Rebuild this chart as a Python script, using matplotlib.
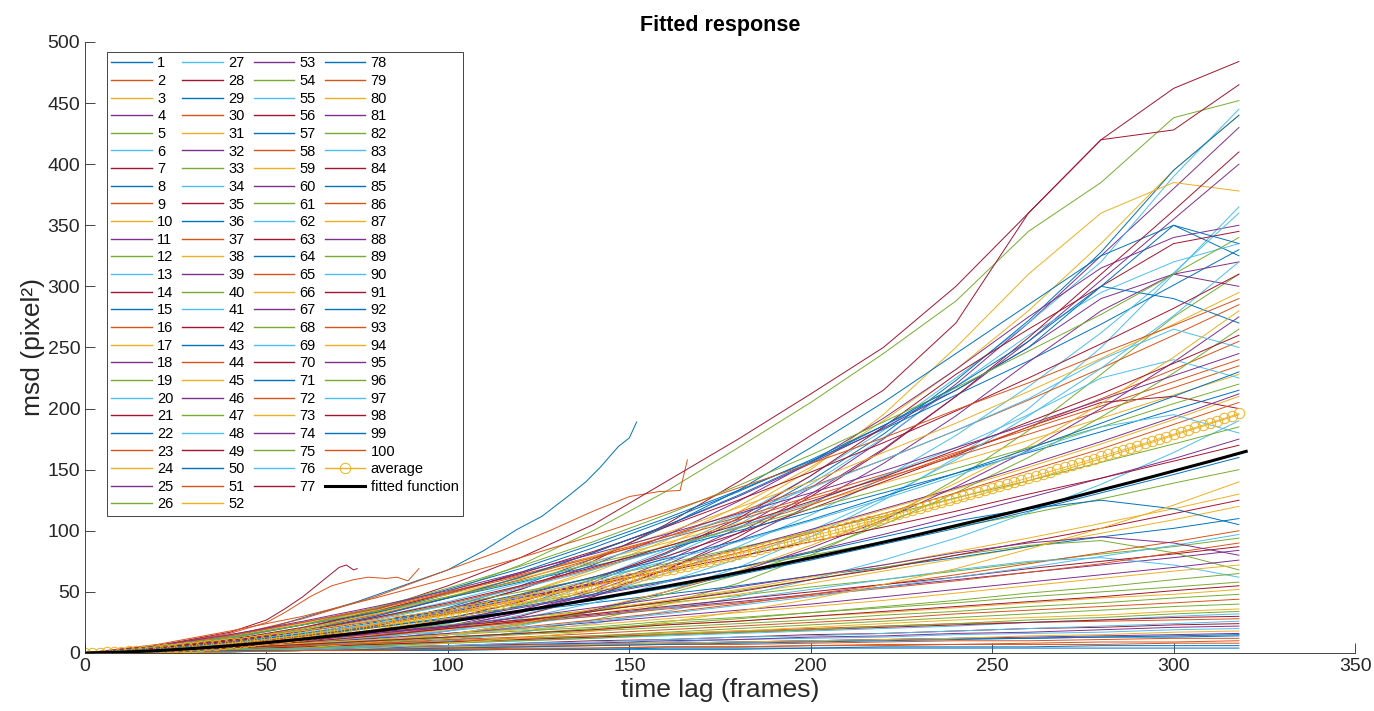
import matplotlib.pyplot as plt

plt.rcParams['font.family'] = ['Liberation Sans', 'DejaVu Sans']

# MATLAB default colour order
matlab_colors = ['#0072BD', '#D95319', '#EDB120', '#7E2F8E', '#77AC30', '#4DBEEE', '#A2142F']

frames_grid = [0, 20, 40, 60, 80, 100, 120, 140, 160, 180, 200, 220, 240, 260, 280, 300, 318]

# short tracks (they stop early)
track1_x = [0, 25, 50, 75, 100, 110, 119, 126, 133, 138, 142, 147, 150, 152]
track1_y = [0, 6, 20, 42, 68, 84, 101, 112, 128, 140, 152, 169, 176, 189]
track2_x = [0, 20, 40, 50, 55, 62, 68, 74, 78, 83, 86, 89, 92]
track2_y = [0, 6, 16, 25, 33, 46, 55, 60, 62, 61, 62, 59, 69]
track7_x = [0, 20, 40, 50, 55, 60, 65, 70, 72, 74, 75]
track7_y = [0, 6, 17, 27, 36, 46, 58, 70, 72, 68, 69]
track9_x = [0, 20, 40, 60, 80, 100, 115, 128, 140, 150, 158, 164, 166]
track9_y = [0, 5, 14, 28, 46, 68, 84, 100, 116, 128, 132, 133, 158]

# tracks 3-6, 8, 10-28
msd_a = [
    [0, 1, 4, 10, 19, 32, 48, 68, 92, 120, 152, 190, 232, 280, 335, 395, 440],
    [0, 1, 3, 7, 13, 22, 35, 52, 75, 102, 135, 175, 220, 270, 325, 380, 430],
    [0, 3, 9, 18, 32, 50, 72, 100, 132, 168, 205, 245, 288, 345, 385, 438, 452],
    [0, 1, 3, 8, 16, 27, 42, 60, 84, 112, 145, 182, 225, 270, 320, 390, 445],
    [0, 0, 3, 7, 14, 25, 39, 58, 81, 108, 141, 179, 223, 272, 328, 395, 440],
    [0, 2, 6, 12, 21, 33, 48, 66, 88, 115, 150, 195, 250, 310, 360, 385, 378],
    [0, 1, 3, 6, 12, 21, 33, 50, 72, 98, 130, 167, 210, 255, 305, 355, 400],
    [0, 0, 1, 2, 5, 10, 17, 27, 40, 57, 80, 108, 142, 182, 228, 275, 310],
    [0, 0, 1, 3, 7, 13, 22, 34, 50, 70, 95, 125, 160, 200, 250, 310, 365],
    [0, 3, 10, 20, 35, 55, 78, 105, 140, 175, 212, 250, 300, 360, 420, 462, 484],
    [0, 2, 6, 13, 23, 37, 55, 77, 103, 133, 168, 205, 245, 285, 325, 350, 325],
    [0, 3, 10, 20, 31, 45, 60, 77, 95, 115, 136, 158, 182, 207, 233, 260, 285],
    [0, 2, 5, 7, 10, 13, 16, 19, 23, 26, 30, 33, 37, 41, 45, 48, 52],
    [0, 2, 6, 13, 23, 36, 52, 72, 96, 124, 156, 192, 232, 275, 315, 340, 350],
    [0, 4, 9, 16, 23, 32, 40, 50, 59, 70, 80, 91, 103, 114, 126, 139, 150],
    [0, 1, 3, 7, 14, 24, 38, 56, 78, 105, 138, 176, 218, 260, 295, 320, 335],
    [0, 2, 6, 12, 22, 35, 52, 75, 105, 140, 178, 215, 270, 360, 420, 428, 465],
    [0, 4, 12, 23, 36, 52, 69, 89, 110, 133, 157, 183, 211, 239, 269, 301, 330],
    [0, 2, 4, 6, 8, 10, 12, 14, 16, 18, 20, 22, 24, 25, 26, 27, 28],
    [0, 3, 8, 14, 23, 33, 44, 56, 70, 84, 100, 117, 134, 152, 171, 191, 210],
    [0, 1, 3, 7, 13, 21, 33, 48, 68, 92, 121, 155, 194, 238, 280, 310, 320],
    [0, 4, 8, 13, 18, 23, 29, 35, 41, 47, 54, 60, 67, 74, 81, 87, 94],
    [0, 0, 2, 5, 12, 20, 31, 46, 65, 87, 113, 143, 178, 218, 262, 311, 360],
    [0, 1, 2, 5, 10, 18, 30, 46, 68, 95, 128, 166, 210, 258, 310, 362, 410],
]

# tracks 29-52
msd_b = [
    [0, 1, 2, 3, 4, 5, 6, 7, 8, 9, 10, 11, 12, 12, 13, 13, 14],
    [0, 6, 15, 25, 37, 50, 64, 79, 95, 111, 128, 146, 164, 183, 202, 222, 240],
    [0, 1, 4, 8, 13, 19, 25, 32, 40, 48, 57, 67, 77, 87, 98, 109, 120],
    [0, 3, 9, 18, 30, 45, 62, 82, 104, 128, 155, 184, 215, 250, 290, 310, 300],
    [0, 2, 4, 7, 9, 12, 15, 18, 21, 24, 27, 31, 34, 38, 41, 45, 48],
    [0, 0, 1, 3, 6, 10, 17, 24, 34, 46, 60, 76, 94, 115, 138, 164, 190],
    [0, 1, 4, 9, 17, 28, 42, 60, 82, 110, 145, 185, 228, 265, 300, 335, 345],
    [0, 3, 10, 20, 33, 48, 66, 86, 108, 132, 158, 186, 215, 250, 300, 290, 270],
    [0, 1, 2, 2, 3, 3, 4, 4, 5, 5, 6, 6, 7, 7, 7, 8, 8],
    [0, 5, 14, 24, 35, 48, 61, 75, 90, 106, 122, 139, 156, 174, 192, 211, 228],
    [0, 3, 8, 12, 16, 21, 26, 31, 37, 42, 48, 54, 60, 66, 72, 78, 84],
    [0, 4, 12, 23, 37, 53, 71, 91, 113, 137, 162, 189, 217, 247, 277, 310, 340],
    [0, 1, 2, 3, 4, 6, 7, 8, 9, 11, 12, 13, 15, 16, 17, 19, 20],
    [0, 2, 7, 14, 23, 34, 47, 62, 79, 98, 118, 140, 162, 185, 205, 210, 200],
    [0, 4, 10, 15, 21, 28, 34, 41, 48, 55, 63, 70, 78, 87, 95, 102, 110],
    [0, 3, 9, 18, 28, 40, 54, 69, 85, 103, 121, 142, 163, 185, 208, 232, 255],
    [0, 1, 3, 5, 7, 9, 11, 13, 16, 18, 21, 24, 27, 29, 31, 34, 36],
    [0, 2, 6, 12, 19, 27, 37, 47, 58, 70, 83, 97, 112, 127, 143, 159, 175],
    [0, 2, 5, 9, 14, 20, 27, 34, 42, 51, 60, 70, 80, 88, 92, 82, 68],
    [0, 0, 2, 5, 10, 18, 28, 41, 58, 77, 100, 127, 158, 194, 233, 276, 320],
    [0, 1, 2, 3, 5, 6, 8, 10, 11, 13, 15, 16, 18, 20, 21, 23, 24],
    [0, 5, 13, 23, 33, 45, 58, 71, 85, 100, 115, 131, 147, 164, 181, 199, 215],
    [0, 1, 4, 7, 11, 16, 21, 27, 33, 40, 48, 56, 64, 73, 82, 91, 100],
    [0, 4, 11, 20, 32, 46, 62, 79, 98, 119, 140, 164, 188, 214, 241, 269, 295],
]

# tracks 53-76
msd_c = [
    [0, 1, 2, 3, 4, 5, 6, 7, 8, 9, 10, 11, 12, 13, 14, 15, 16],
    [0, 4, 11, 19, 29, 39, 50, 61, 73, 86, 99, 112, 127, 141, 156, 171, 185],
    [0, 2, 5, 9, 13, 18, 24, 30, 37, 44, 52, 60, 68, 75, 78, 72, 62],
    [0, 4, 11, 21, 34, 49, 65, 83, 103, 125, 148, 172, 198, 225, 253, 282, 310],
    [0, 1, 1, 2, 2, 2, 3, 3, 3, 3, 4, 4, 4, 4, 4, 4, 4],
    [0, 6, 14, 25, 36, 49, 63, 78, 93, 109, 126, 143, 161, 179, 198, 217, 235],
    [0, 2, 5, 9, 14, 20, 27, 35, 43, 52, 62, 72, 83, 94, 106, 118, 130],
    [0, 0, 2, 4, 9, 15, 24, 35, 50, 66, 86, 109, 136, 166, 200, 238, 275],
    [0, 1, 3, 5, 7, 9, 12, 14, 17, 20, 23, 26, 29, 32, 35, 38, 40],
    [0, 3, 9, 17, 27, 39, 53, 68, 85, 103, 123, 145, 168, 195, 225, 240, 225],
    [0, 3, 8, 12, 17, 22, 27, 32, 38, 44, 50, 56, 62, 69, 75, 81, 87],
    [0, 3, 9, 18, 30, 45, 62, 82, 104, 129, 156, 186, 218, 255, 300, 350, 335],
    [0, 1, 2, 3, 4, 4, 5, 6, 7, 7, 8, 9, 10, 10, 11, 12, 12],
    [0, 2, 7, 13, 21, 31, 41, 52, 65, 78, 93, 108, 124, 141, 159, 178, 195],
    [0, 2, 5, 8, 12, 16, 20, 25, 30, 35, 40, 46, 52, 58, 64, 70, 76],
    [0, 0, 2, 4, 8, 15, 23, 34, 48, 64, 83, 105, 131, 160, 193, 229, 265],
    [0, 1, 3, 4, 6, 8, 10, 12, 14, 16, 18, 20, 22, 25, 27, 30, 32],
    [0, 4, 10, 18, 26, 36, 46, 56, 67, 79, 91, 103, 116, 130, 143, 157, 170],
    [0, 3, 8, 14, 21, 29, 38, 48, 59, 70, 82, 95, 108, 118, 125, 118, 105],
    [0, 7, 18, 30, 45, 61, 78, 96, 115, 135, 155, 176, 199, 221, 245, 268, 290],
    [0, 1, 2, 3, 4, 5, 6, 7, 8, 9, 10, 11, 12, 14, 15, 17, 18],
    [0, 3, 8, 15, 23, 33, 45, 57, 71, 85, 101, 118, 135, 154, 173, 193, 212],
    [0, 2, 5, 8, 11, 15, 18, 21, 26, 29, 33, 37, 41, 46, 50, 54, 58],
    [0, 3, 9, 18, 29, 42, 57, 74, 93, 113, 135, 158, 182, 208, 240, 265, 250],
]

# tracks 77-100
msd_d = [
    [0, 1, 3, 5, 7, 9, 11, 13, 15, 17, 19, 21, 23, 25, 27, 29, 30],
    [0, 2, 6, 11, 18, 25, 34, 43, 53, 64, 76, 89, 102, 116, 131, 146, 160],
    [0, 3, 7, 11, 15, 20, 25, 30, 36, 41, 47, 53, 59, 66, 73, 82, 90],
    [0, 0, 2, 4, 9, 15, 24, 36, 50, 67, 88, 111, 139, 169, 204, 242, 280],
    [0, 1, 2, 3, 4, 6, 7, 8, 10, 11, 13, 14, 16, 17, 19, 21, 22],
    [0, 5, 13, 23, 34, 46, 59, 73, 87, 102, 118, 134, 151, 168, 185, 204, 220],
    [0, 1, 3, 7, 11, 15, 20, 26, 32, 39, 46, 54, 62, 70, 79, 88, 97],
    [0, 3, 9, 18, 29, 41, 55, 70, 87, 105, 124, 144, 166, 189, 212, 237, 260],
    [0, 1, 1, 2, 2, 3, 3, 3, 4, 4, 4, 5, 5, 5, 6, 6, 6],
    [0, 2, 7, 14, 23, 32, 43, 55, 68, 82, 98, 114, 131, 149, 167, 187, 205],
    [0, 2, 5, 8, 11, 15, 19, 23, 28, 33, 38, 43, 49, 55, 61, 67, 72],
    [0, 6, 15, 26, 38, 51, 66, 81, 97, 114, 131, 149, 168, 187, 207, 227, 245],
    [0, 1, 3, 4, 6, 8, 10, 12, 15, 17, 19, 22, 24, 27, 29, 32, 34],
    [0, 3, 8, 15, 24, 34, 46, 60, 75, 91, 108, 126, 145, 165, 185, 195, 180],
    [0, 2, 5, 9, 14, 20, 26, 34, 42, 50, 60, 69, 80, 91, 102, 114, 125],
    [0, 3, 8, 16, 25, 36, 48, 62, 77, 92, 109, 128, 147, 167, 188, 210, 230],
    [0, 2, 4, 6, 8, 11, 13, 16, 19, 22, 25, 28, 32, 35, 38, 41, 44],
    [0, 0, 1, 2, 4, 8, 12, 18, 25, 34, 44, 56, 69, 85, 102, 121, 140],
    [0, 2, 6, 10, 16, 22, 29, 37, 45, 54, 63, 72, 82, 90, 95, 90, 80],
    [0, 2, 4, 7, 10, 13, 16, 20, 24, 28, 33, 38, 43, 49, 54, 60, 65],
    [0, 1, 2, 3, 5, 6, 8, 9, 11, 13, 14, 16, 18, 20, 22, 24, 26],
    [0, 2, 4, 7, 10, 13, 16, 19, 23, 26, 30, 34, 38, 42, 46, 51, 55],
    [0, 1, 2, 2, 3, 4, 5, 6, 7, 8, 9, 10, 11, 12, 13, 14, 15],
    [0, 1, 1, 2, 2, 3, 3, 4, 5, 5, 6, 7, 7, 8, 9, 9, 10],
]

# average msd, every 2 frames
avg_frames = list(range(0, 319, 2))
avg_msd = [
    0, 0.08, 0.22, 0.42, 0.65, 0.92, 1.22, 1.55, 1.90, 2.29, 2.69,
    3.12, 3.57, 4.04, 4.53, 5.04, 5.57, 6.13, 6.70, 7.28, 7.89,
    8.5, 9.2, 9.8, 10.5, 11.1, 11.9, 12.6, 13.3, 14.0, 14.8,
    15.6, 16.4, 17.2, 17.9, 18.7, 19.6, 20.5, 21.3, 22.2, 23.1,
    24.0, 24.9, 25.8, 26.8, 27.7, 28.7, 29.6, 30.6, 31.6, 32.6,
    33.6, 34.7, 35.7, 36.8, 37.8, 38.9, 40.0, 41.1, 42.2, 43.3,
    44.4, 45.6, 46.7, 47.8, 49.0, 50.2, 51.4, 52.6, 53.8, 54.9,
    56.2, 57.4, 58.6, 59.9, 61.1, 62.4, 63.7, 64.9, 66.2, 67.5,
    68.8, 70.2, 71.5, 72.8, 74.2, 75.6, 76.9, 78.3, 79.6, 81.0,
    82.4, 83.8, 85.3, 86.7, 88.1, 89.6, 91.0, 92.5, 93.9, 95.4,
    96.9, 98.4, 100.0, 101.5, 103.0, 104.5, 106.1, 107.6, 109.2, 110.7,
    112.3, 113.9, 115.4, 117.0, 118.6, 120.2, 121.8, 123.4, 125.0, 126.6,
    128.3, 129.9, 131.6, 133.2, 134.9, 136.6, 138.3, 139.9, 141.6, 143.3,
    145.0, 146.7, 148.5, 150.2, 151.9, 153.7, 155.5, 157.2, 159.0, 160.8,
    162.6, 164.4, 166.1, 167.9, 169.7, 171.6, 173.4, 175.3, 177.1, 179.0,
    180.9, 182.7, 184.6, 186.4, 188.3, 190.2, 192.1, 194.0, 196.0,
]

# fitted function, every 10 frames
fit_frames = list(range(0, 321, 10))
fit_msd = [0, 0.64, 1.95, 3.74, 5.92, 8.47, 11.34, 14.49, 17.95, 21.68, 25.65,
           29.89, 34.36, 39.08, 43.99, 49.14, 54.48, 60.03, 65.76, 71.67, 77.81,
           84.12, 90.66, 97.19, 104.2, 111.2, 118.4, 125.7, 133.4, 141.0, 148.9,
           156.8, 165.0]

short_tracks = {1: (track1_x, track1_y), 2: (track2_x, track2_y),
                7: (track7_x, track7_y), 9: (track9_x, track9_y)}
long_tracks = iter(msd_a + msd_b + msd_c + msd_d)

fig = plt.figure(figsize=(13.74, 7.11), dpi=100)
ax = fig.add_axes([0.0619, 0.0816, 0.9243, 0.8594])

for i in range(1, 101):
    if i in short_tracks:
        xs, ys = short_tracks[i]
    else:
        xs, ys = frames_grid, next(long_tracks)
    ax.plot(xs, ys, color=matlab_colors[(i - 1) % 7], lw=0.7, label=str(i))

ax.plot(avg_frames, avg_msd, color=matlab_colors[2], lw=0.6, marker='o', ms=7.5,
        mfc='none', mew=0.7, label='average')
ax.plot(fit_frames, fit_msd, color='black', lw=2.2, label='fitted function')

ax.set_xlim(0, 350)
ax.set_ylim(0, 500)
ax.set_xticks(range(0, 351, 50))
ax.set_yticks(range(0, 501, 50))
for side in ['top', 'right']:
    ax.spines[side].set_visible(False)
for side in ['left', 'bottom']:
    ax.spines[side].set_color('0.15')
    ax.spines[side].set_linewidth(0.6)
ax.tick_params(direction='in', length=7, width=0.6, color='0.15',
               labelcolor='0.15', labelsize=14)

ax.set_title('Fitted response', fontsize=15.5, fontweight='bold', pad=8)
ax.set_xlabel('time lag (frames)', fontsize=19, color='0.15', labelpad=2)
ax.set_ylabel('msd (pixel²)', fontsize=19, color='0.15', labelpad=2)

leg = ax.legend(loc='upper left', bbox_to_anchor=(0.0173, 0.9836), ncol=4,
                fontsize=10.5, handlelength=2.8, handletextpad=0.35,
                columnspacing=0.6, labelspacing=0.25, borderpad=0.3,
                borderaxespad=0, fancybox=False, framealpha=1)
leg.get_frame().set_edgecolor('0.15')
leg.get_frame().set_linewidth(0.6)
# keep the thin legend sample lines on whole pixels so their colours stay visible
for h in leg.legend_handles:
    h.set_snap(True)
    if h.get_label() != 'fitted function':
        h.set_linewidth(1.0)

fig.savefig('out.png', dpi=100)
